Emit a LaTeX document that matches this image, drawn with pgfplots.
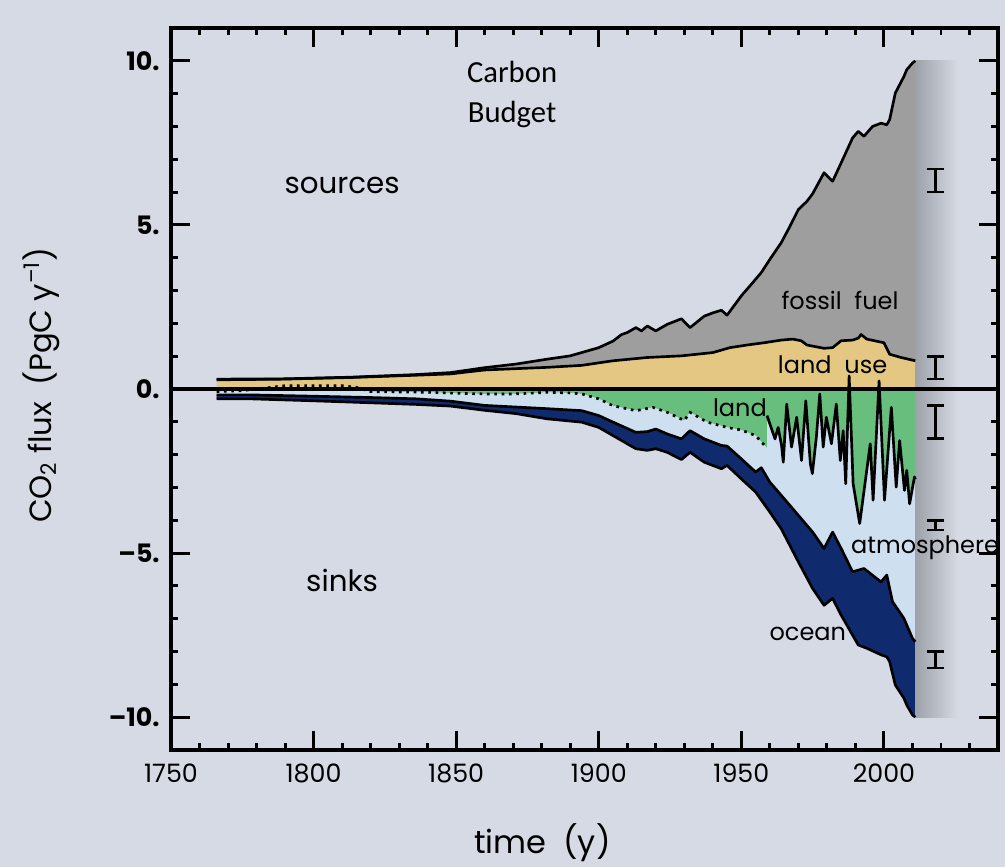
\documentclass[border=0pt]{standalone}
\usepackage{fontspec}
\setmainfont{Poppins}
\newfontfamily\carlito{Carlito}
\usepackage{xcolor}
\usepackage{graphicx}
\usepackage{pgfplots}
\pgfplotsset{compat=1.18}
\usepgfplotslibrary{fillbetween}
\usepackage{pgfplotstable}
\pgfplotsset{every axis/.append style={line width=2.2pt},
  every tick/.style={line width=2.2pt, black},
  tick style={line width=2.2pt, black}}

\definecolor{bg}{RGB}{213,218,228}
\definecolor{ffgray}{RGB}{158,158,158}
\definecolor{lutan}{RGB}{228,199,130}
\definecolor{lgreen}{RGB}{104,190,125}
\definecolor{atmblue}{RGB}{206,223,239}
\definecolor{ocnavy}{RGB}{16,42,110}
\pagecolor{bg}

% top of sources (fossil fuel + land use)
\pgfplotstableread{
year v
1766 0.30
1790 0.31
1813 0.36
1836 0.44
1848 0.50
1860 0.65
1871 0.76
1882 0.91
1890 1.01
1894 1.11
1900 1.26
1905 1.46
1908 1.66
1910 1.72
1913 1.87
1915 1.77
1917 1.92
1920 1.77
1924 1.97
1929 2.14
1932 1.87
1937 2.22
1940 2.32
1943 2.40
1945 2.25
1950 2.84
1953 3.14
1957 3.55
1960 3.95
1964 4.46
1967 4.95
1970 5.47
1973 5.72
1975 5.95
1979 6.59
1982 6.33
1985 6.89
1989 7.65
1991 7.85
1993 7.70
1996 8.00
1999 8.10
2001 8.05
2002 8.21
2004 9.02
2007 9.52
2008 9.73
2010 9.93
2011 10.00
}\Ttab

% land use
\pgfplotstableread{
year v
1766 0.28
1789 0.30
1813 0.35
1836 0.42
1848 0.46
1860 0.58
1871 0.62
1882 0.66
1894 0.72
1905 0.86
1917 0.96
1929 1.01
1940 1.11
1946 1.26
1952 1.34
1958 1.41
1964 1.49
1968 1.52
1971 1.47
1973 1.34
1979 1.24
1982 1.26
1985 1.47
1989 1.49
1991 1.55
1992 1.66
1994 1.52
2000 1.41
2002 1.06
2006 0.96
2011 0.86
}\Utab

% land sink, before 1959 (dotted)
\pgfplotstableread{
year v
1766 -0.08
1775 -0.05
1785 0.05
1790 0.10
1800 0.10
1810 0.10
1815 0.05
1820 -0.08
1840 -0.10
1850 -0.13
1860 -0.15
1870 -0.15
1878 -0.12
1882 -0.10
1890 -0.12
1894 -0.15
1900 -0.30
1905 -0.51
1913 -0.66
1919 -0.56
1924 -0.71
1930 -0.96
1932 -0.71
1938 -1.01
1945 -1.17
1950 -1.25
1955 -1.42
1959 -1.80
}\Gdot

% land sink, 1959 onwards (solid)
\pgfplotstableread{
year v
1959.0 -0.81
1961.8 -1.52
1962.9 -1.17
1964.1 -1.72
1964.7 -2.23
1965.9 -0.46
1967.6 -1.77
1969.4 -0.86
1971.1 -2.18
1972.6 -0.36
1974.2 -2.28
1974.9 -2.58
1976.3 -1.47
1977.5 -0.15
1978.7 -1.77
1979.8 -0.86
1981.6 -1.67
1983.3 -0.46
1984.7 -2.18
1985.7 -1.27
1986.6 -2.89
1987.8 0.40
1989.2 -2.89
1991.5 -4.10
1995.2 -1.67
1996.2 -3.39
1998.3 0.25
2000.2 -3.39
2002.6 -0.56
2004.3 -2.99
2005.5 -1.57
2007.2 -3.09
2008.0 -2.48
2009.0 -3.50
2010.7 -2.68
2011.0 -2.75
}\Gsol

% land sink, full (for filling)
\pgfplotstableread{
year v
1766 -0.08
1775 -0.05
1785 0.05
1790 0.10
1800 0.10
1810 0.10
1815 0.05
1820 -0.08
1840 -0.10
1850 -0.13
1860 -0.15
1870 -0.15
1878 -0.12
1882 -0.10
1890 -0.12
1894 -0.15
1900 -0.30
1905 -0.51
1913 -0.66
1919 -0.56
1924 -0.71
1930 -0.96
1932 -0.71
1938 -1.01
1945 -1.17
1950 -1.25
1955 -1.42
1959 -1.80
1959.0 -0.81
1961.8 -1.52
1962.9 -1.17
1964.1 -1.72
1964.7 -2.23
1965.9 -0.46
1967.6 -1.77
1969.4 -0.86
1971.1 -2.18
1972.6 -0.36
1974.2 -2.28
1974.9 -2.58
1976.3 -1.47
1977.5 -0.15
1978.7 -1.77
1979.8 -0.86
1981.6 -1.67
1983.3 -0.46
1984.7 -2.18
1985.7 -1.27
1986.6 -2.89
1987.8 0.40
1989.2 -2.89
1991.5 -4.10
1995.2 -1.67
1996.2 -3.39
1998.3 0.25
2000.2 -3.39
2002.6 -0.56
2004.3 -2.99
2005.5 -1.57
2007.2 -3.09
2008.0 -2.48
2009.0 -3.50
2010.7 -2.68
2011.0 -2.75
}\Gall

% atmosphere / ocean boundary
\pgfplotstableread{
year v
1766 -0.18
1778 -0.18
1800 -0.22
1820 -0.26
1836 -0.30
1848 -0.37
1860 -0.50
1871 -0.55
1882 -0.60
1894 -0.66
1900 -0.81
1905 -1.01
1913 -1.32
1917 -1.30
1920 -1.22
1924 -1.37
1929 -1.52
1932 -1.27
1937 -1.52
1943 -1.72
1945 -1.74
1950 -2.13
1955 -2.53
1957 -2.40
1960 -2.84
1964 -3.24
1970 -3.85
1975 -4.36
1979 -4.86
1982 -4.36
1985 -4.86
1989 -5.57
1993 -5.47
1999 -5.88
2001 -5.67
2003 -6.48
2007 -6.99
2008 -7.19
2010 -7.60
2011 -7.70
}\Atab

% bottom of sinks (ocean)
\pgfplotstableread{
year v
1766 -0.30
1778 -0.30
1800 -0.36
1820 -0.42
1836 -0.47
1848 -0.52
1860 -0.65
1871 -0.75
1882 -0.91
1894 -1.01
1900 -1.17
1905 -1.42
1913 -1.82
1917 -1.87
1920 -1.82
1924 -1.93
1929 -2.15
1932 -1.93
1937 -2.23
1943 -2.43
1945 -2.33
1950 -2.74
1955 -3.14
1960 -3.75
1964 -4.26
1970 -5.27
1975 -6.08
1979 -6.59
1982 -6.38
1985 -6.89
1989 -7.50
1991 -7.80
1994 -7.90
1999 -8.10
2001 -8.16
2002 -8.31
2004 -9.02
2007 -9.42
2008 -9.63
2010 -9.93
2011 -10.00
}\Btab

\begin{document}
\begin{tikzpicture}
\begin{axis}[
  scale only axis,
  width=620.25pt, height=541.5pt,
  xmin=1750, xmax=2040, ymin=-11, ymax=11,
  axis line style={line width=2.4pt, black},
  every outer x axis line/.append style={line width=2.4pt},
  every outer y axis line/.append style={line width=2.4pt},
  xtick={1750,1800,1850,1900,1950,2000},
  xticklabels={1750,1800,1850,1900,1950,2000},
  minor xtick={1760,1770,...,2030},
  ytick={-10,-5,0,5,10},
  yticklabels={–10.,–5.,0.,5.,10.},
  minor ytick={-10,-9,...,10},
  tick align=inside,
  major tick style={line width=2.2pt, black},
  minor tick style={line width=2.2pt, black},
  major tick length=14pt,
  minor tick length=5.5pt,
  xticklabel style={font=\fontsize{19}{19}\selectfont, yshift=-7pt},
  yticklabel style={font=\bfseries\fontsize{19}{19}\selectfont, xshift=-5pt},
  xlabel={time\ \ (y)},
  ylabel={CO\textsubscript{2}\ flux\ \ (PgC\ y\textsuperscript{–1})},
  xlabel style={font=\fontsize{24}{24}\selectfont, at={(axis description cs:0.449,-0.1288)}, anchor=center},
  ylabel style={font=\fontsize{23}{23}\selectfont, at={(axis description cs:-0.157,0.505)}, anchor=center},
  clip=false,
]
% shadow right of the data
\fill[left color=black!26!bg, right color=bg, draw=none] (axis cs:2011,-10) rectangle (axis cs:2026,10);

\addplot[name path=Z, draw=none] coordinates {(1766,0) (2011,0)};
\addplot[name path=T, draw=none] table[x=year,y=v] {\Ttab};
\addplot[name path=U, draw=none] table[x=year,y=v] {\Utab};
\addplot[name path=G, draw=none] table[x=year,y=v] {\Gall};
\addplot[name path=A, draw=none] table[x=year,y=v] {\Atab};
\addplot[name path=B, draw=none] table[x=year,y=v] {\Btab};

\addplot[fill=lgreen, draw=none] fill between[of=Z and G];
\addplot[fill=atmblue, draw=none] fill between[of=G and A];
\addplot[fill=ocnavy, draw=none] fill between[of=A and B];
\addplot[fill=lutan, draw=none] fill between[of=Z and U];
\addplot[fill=ffgray, draw=none] fill between[of=U and T];

\addplot[black, line width=2pt, line join=round] table[x=year,y=v] {\Ttab};
\addplot[black, line width=2pt, line join=round] table[x=year,y=v] {\Utab};
\addplot[black, line width=2pt, line join=round] table[x=year,y=v] {\Atab};
\addplot[black, line width=2pt, line join=round] table[x=year,y=v] {\Btab};
\addplot[black, line width=2pt, dash pattern=on 2pt off 3.5pt] table[x=year,y=v] {\Gdot};
\addplot[black, line width=2pt, line join=round] table[x=year,y=v] {\Gsol};

\addplot[black, line width=2.4pt] coordinates {(1750,0) (2040,0)};

\addplot[draw=none, mark=none,
  error bars/.cd, y dir=both, y explicit,
  error mark=|,
  error bar style={draw=black, line width=2pt},
  error mark options={draw=black, line width=2pt, mark size=6.3pt}]
  coordinates {
  (2018,6.35) +- (0,0.35)
  (2018,0.65) +- (0,0.35)
  (2018,-1.0) +- (0,0.5)
  (2018,-4.15) +- (0,0.15)
  (2018,-8.25) +- (0,0.25)
  };

\node[font=\carlito\fontsize{23}{30}\selectfont, align=center] at (axis cs:1869.6,8.96) {Carbon\\Budget};
\node[font=\fontsize{22}{22}\selectfont] at (axis cs:1810,6.19) {sources};
\node[font=\fontsize{22}{22}\selectfont] at (axis cs:1810,-5.82) {sinks};
\node[font=\fontsize{18}{18}\selectfont] at (axis cs:1984.6,2.71) {fossil\ \ fuel};
\node[font=\fontsize{18}{18}\selectfont] at (axis cs:1982,0.73) {land\ \ use};
\node[font=\fontsize{18}{18}\selectfont] at (axis cs:1949.5,-0.58) {land};
\node[font=\fontsize{18}{18}\selectfont] at (axis cs:2014.4,-4.84) {atmosphere};
\node[font=\fontsize{18}{18}\selectfont] at (axis cs:1973.3,-7.46) {ocean};
\end{axis}
\pgfresetboundingbox
\path[use as bounding box] (-128.25pt,-87.75pt) rectangle (625.5pt,562.5pt);
\end{tikzpicture}
\end{document}
